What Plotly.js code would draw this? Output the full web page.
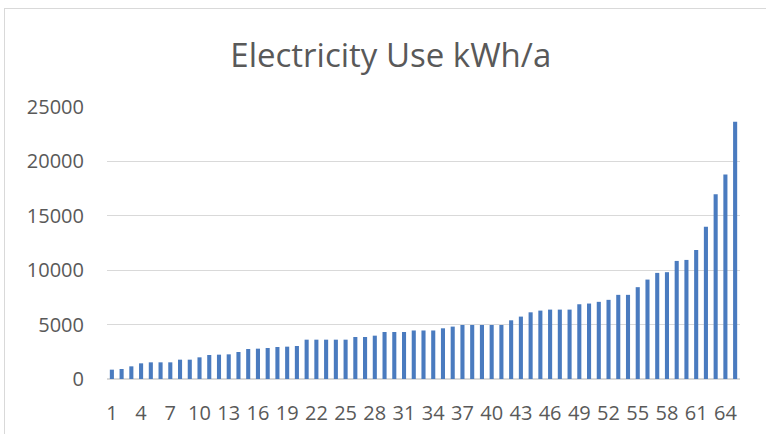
<!DOCTYPE html>
<html>
<head>
<meta charset="utf-8">
<script src="https://cdn.plot.ly/plotly-3.0.1.min.js"></script>
<style>
  html, body { margin: 0; padding: 0; background: #ffffff; overflow: hidden; }
  #frame { position: absolute; left: 4px; top: 8px; width: 800px; height: 460px; border: 1px solid #d9d9d9; box-sizing: border-box; }
  #chart { position: absolute; left: 0; top: 0; width: 766px; height: 434px; }
</style>
</head>
<body>
<div id="frame"></div>
<div id="chart"></div>
<script>
// Category labels (household number)
const categories = ['1','2','3','4','5','6','7','8','9','10','11','12','13','14','15','16','17','18','19','20',
  '21','22','23','24','25','26','27','28','29','30','31','32','33','34','35','36','37','38','39','40',
  '41','42','43','44','45','46','47','48','49','50','51','52','53','54','55','56','57','58','59','60',
  '61','62','63','64','65'];

// Electricity use, kWh per year
const electricityUse = [858, 919, 1164, 1440, 1532, 1532, 1532, 1777, 1777, 1992,
  2206, 2237, 2267, 2482, 2758, 2788, 2850, 2941, 2972, 3033,
  3615, 3615, 3615, 3615, 3615, 3861, 3861, 3983, 4320, 4320,
  4320, 4460, 4460, 4460, 4660, 4816, 4963, 4963, 4963, 4963,
  4963, 5395, 5735, 6130, 6287, 6379, 6379, 6379, 6870, 6936,
  7092, 7275, 7734, 7734, 8440, 9138, 9752, 9817, 10853, 10945,
  11862, 14000, 16972, 18807, 23633];

// Shown x tick labels
const xTickLabels = ['1','4','7','10','13','16','19','22','25','28','31','34','37','40','43','46','49','52','55','58','61','64'];

// Y axis ticks
const yTickValues = [0, 5000, 10000, 15000, 20000, 25000];

const textColor = '#595959';
const gridColor = '#d9d9d9';
const fontFamily = '"Open Sans", "Noto Sans", sans-serif';

const trace = {
  type: 'bar',
  x: categories,
  y: electricityUse,
  marker: { color: '#4a7bbf', line: { width: 0 } },
  hoverinfo: 'x+y'
};

const layout = {
  width: 766,
  height: 434,
  paper_bgcolor: 'rgba(0,0,0,0)',
  plot_bgcolor: 'rgba(0,0,0,0)',
  margin: { l: 106.5, r: 26, t: 107, b: 54.5, pad: 0 },
  bargap: 0.58,
  showlegend: false,
  font: { family: fontFamily, color: textColor, size: 20 },
  title: {
    text: 'Electricity Use kWh/a',
    font: { family: fontFamily, color: textColor, size: 33 },
    xref: 'container', x: 0.5102, xanchor: 'center',
    yref: 'container', y: 1 - 55 / 434, yanchor: 'middle'
  },
  xaxis: {
    type: 'category',
    tickmode: 'array',
    tickvals: xTickLabels,
    ticktext: xTickLabels,
    showgrid: false,
    showline: false,
    ticks: '',
    ticklabelstandoff: 20,
    tickfont: { family: fontFamily, color: textColor, size: 20 },
    fixedrange: true
  },
  yaxis: {
    range: [0, 25000],
    tickmode: 'array',
    tickvals: yTickValues,
    ticktext: yTickValues.map(String),
    showgrid: true,
    gridcolor: gridColor,
    gridwidth: 1.3,
    zeroline: true,
    zerolinecolor: gridColor,
    zerolinewidth: 1.5,
    showline: false,
    ticks: '',
    ticklabelstandoff: 22,
    tickfont: { family: fontFamily, color: textColor, size: 20 },
    fixedrange: true
  }
};

Plotly.newPlot('chart', [trace], layout, { displayModeBar: false, staticPlot: true });
</script>
</body>
</html>
